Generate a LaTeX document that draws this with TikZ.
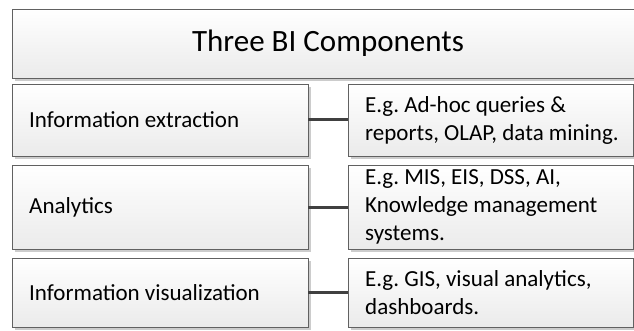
\documentclass[tikz,border=0pt]{standalone}
\usepackage{fontspec}
\setmainfont{Carlito}
\frenchspacing
\usetikzlibrary{shadows}
\tikzset{
  panel/.style={draw=black!62, line width=0.9pt, top color=white, bottom color=black!8,
    drop shadow={shadow xshift=3pt, shadow yshift=-3pt, fill=black!20, opacity=1},
    inner sep=0pt, outer sep=0pt},
  label/.style={anchor=west, inner sep=0pt, align=left, font=\fontsize{23}{28}\selectfont},
  heading/.style={font=\fontsize{31}{37}\selectfont},
  link/.style={draw=black!75, line width=3pt}
}
\begin{document}
\begin{tikzpicture}[x=1pt, y=-1pt]
\useasboundingbox (0,0) rectangle (634,331);

% heading bar
\node[panel, minimum width=632pt, minimum height=69pt] (title) at (328,43.5) {};
\node[heading] (titletext) at (title.center) {Three BI Components};

% component boxes (left column)
\node[panel, minimum width=296pt, minimum height=72pt] (l1) at (160,120) {};
\node[panel, minimum width=296pt, minimum height=84pt] (l2) at (160,207) {};
\node[panel, minimum width=296pt, minimum height=69pt] (l3) at (160,292.5) {};

% example boxes (right column)
\node[panel, minimum width=285pt, minimum height=72pt] (r1) at (490.5,120) {};
\node[panel, minimum width=285pt, minimum height=84pt] (r2) at (490.5,207) {};
\node[panel, minimum width=285pt, minimum height=69pt] (r3) at (490.5,292.5) {};

% texts
\node[label] (l1t) at ([xshift=17pt]l1.west) {Information extraction};
\node[label] (l2t) at ([xshift=17pt]l2.west) {Analytics};
\node[label] (l3t) at ([xshift=17pt]l3.west) {Information visualization};

\node[label] (r1t) at ([xshift=17pt]r1.west) {E.g. Ad-hoc queries \&\\reports, OLAP, data mining.};
\node[label] (r2t) at ([xshift=17pt]r2.west) {E.g. MIS, EIS, DSS, AI,\\Knowledge management\\systems.};
\node[label] (r3t) at ([xshift=17pt]r3.west) {E.g. GIS, visual analytics,\\dashboards.};

% connectors
\draw[link] (l1.east) -- (r1.west);
\draw[link] (l2.east) -- (r2.west);
\draw[link] (l3.east) -- (r3.west);
\end{tikzpicture}
\end{document}
